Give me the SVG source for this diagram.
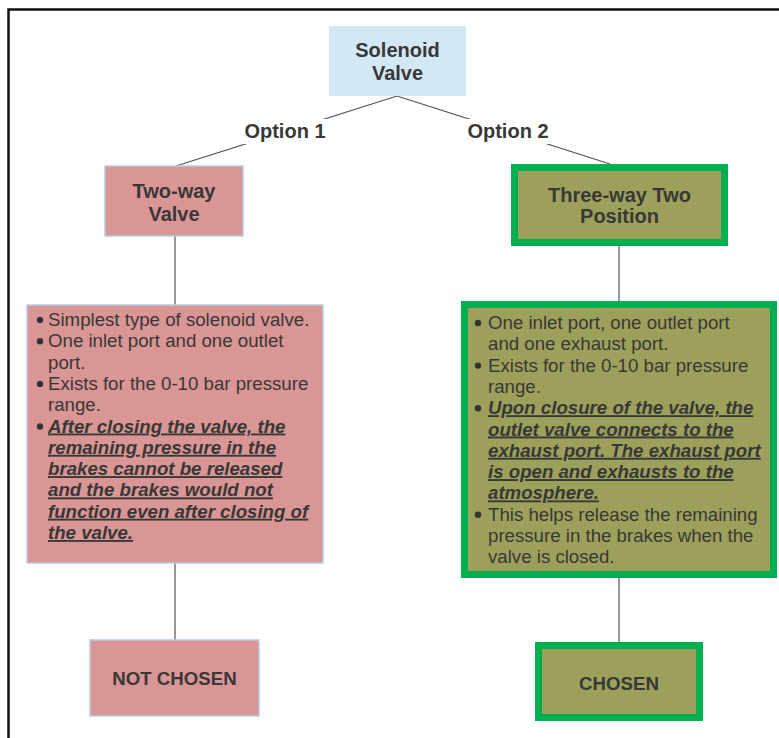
<svg xmlns="http://www.w3.org/2000/svg" width="779" height="738" viewBox="0 0 779 738">
<style>
.t{font-family:"Liberation Sans",Arial,sans-serif;fill:#383838}
.title{font-size:20px;font-weight:bold;text-anchor:middle}
.lbl{font-size:18.67px;font-weight:bold;text-anchor:middle}
.body{font-size:18.67px}
.em{font-weight:bold;font-style:italic;text-decoration:underline}
.pink{fill:#d99694;stroke:#b8cce4;stroke-width:1.5}
.olive{fill:#9da05a;stroke:#00b050;stroke-width:7}
.conn line{stroke:#555;stroke-width:1.2}
.bul{fill:#333}
</style>
<rect width="779" height="738" fill="#fff"/>
<path d="M8.5 738V9.5H779" fill="none" stroke="#111" stroke-width="2.5"/>
<g id="connectors" class="conn">
<line x1="397" y1="96" x2="176" y2="166"/>
<line x1="397" y1="96" x2="610" y2="164"/>
<line x1="175" y1="236" x2="175" y2="305"/>
<line x1="175" y1="563" x2="175" y2="640"/>
<line x1="619" y1="246" x2="619" y2="301"/>
<line x1="619" y1="578" x2="619" y2="642"/>
<rect x="242" y="119" width="86" height="25" fill="#fff"/>
<rect x="465" y="119" width="86" height="25" fill="#fff"/>
<text class="t lbl" x="285" y="138" style="font-size:20px">Option 1</text>
<text class="t lbl" x="508" y="138" style="font-size:20px">Option 2</text>
</g>
<g id="solenoid">
<rect x="329" y="26" width="137" height="70" fill="#d3e8f5"/>
<text class="t title" x="397.5" y="57">Solenoid</text>
<text class="t title" x="397.5" y="80">Valve</text>
</g>
<g id="twoway">
<rect class="pink" x="105" y="166" width="138" height="70"/>
<text class="t title" x="174" y="198">Two-way</text>
<text class="t title" x="174" y="221">Valve</text>
</g>
<g id="threeway">
<rect class="olive" x="514.5" y="167.5" width="210" height="75"/>
<text class="t title" x="619.5" y="202">Three-way Two</text>
<text class="t title" x="619.5" y="223">Position</text>
</g>
<g id="leftdesc">
<rect class="pink" x="27" y="305" width="296" height="258"/>
<g class="bul"><circle cx="40" cy="320" r="3.2"/><circle cx="40" cy="341.3" r="3.2"/><circle cx="40" cy="383.9" r="3.2"/><circle cx="40" cy="426.5" r="3.2"/></g>
<text class="t body" x="48" y="326">Simplest type of solenoid valve.</text>
<text class="t body" x="48" y="347.3">One inlet port and one outlet</text>
<text class="t body" x="48" y="368.6">port.</text>
<text class="t body" x="48" y="389.9">Exists for the 0-10 bar pressure</text>
<text class="t body" x="48" y="411.2">range.</text>
<text class="t body em" x="48" y="432.5">After closing the valve, the</text>
<text class="t body em" x="48" y="453.8">remaining pressure in the</text>
<text class="t body em" x="48" y="475.1">brakes cannot be released</text>
<text class="t body em" x="48" y="496.4">and the brakes would not</text>
<text class="t body em" x="48" y="517.7">function even after closing of</text>
<text class="t body em" x="48" y="539">the valve.</text>
</g>
<g id="rightdesc">
<rect class="olive" x="464.5" y="304.5" width="309" height="270"/>
<g class="bul"><circle cx="478" cy="323" r="3.2"/><circle cx="478" cy="365.6" r="3.2"/><circle cx="478" cy="408.2" r="3.2"/><circle cx="478" cy="514.7" r="3.2"/></g>
<text class="t body" x="488" y="329">One inlet port, one outlet port</text>
<text class="t body" x="488" y="350.3">and one exhaust port.</text>
<text class="t body" x="488" y="371.6">Exists for the 0-10 bar pressure</text>
<text class="t body" x="488" y="392.9">range.</text>
<text class="t body em" x="488" y="414.2">Upon closure of the valve, the</text>
<text class="t body em" x="488" y="435.5">outlet valve connects to the</text>
<text class="t body em" x="488" y="456.8">exhaust port. The exhaust port</text>
<text class="t body em" x="488" y="478.1">is open and exhausts to the</text>
<text class="t body em" x="488" y="499.4">atmosphere.</text>
<text class="t body" x="488" y="520.7">This helps release the remaining</text>
<text class="t body" x="488" y="542">pressure in the brakes when the</text>
<text class="t body" x="488" y="563.3">valve is closed.</text>
</g>
<g id="notchosen">
<rect class="pink" x="90" y="640" width="169" height="76"/>
<text class="t lbl" x="174.5" y="684.5">NOT CHOSEN</text>
</g>
<g id="chosen">
<rect class="olive" x="538.5" y="645.5" width="161" height="72"/>
<text class="t lbl" x="619" y="690">CHOSEN</text>
</g>
</svg>
